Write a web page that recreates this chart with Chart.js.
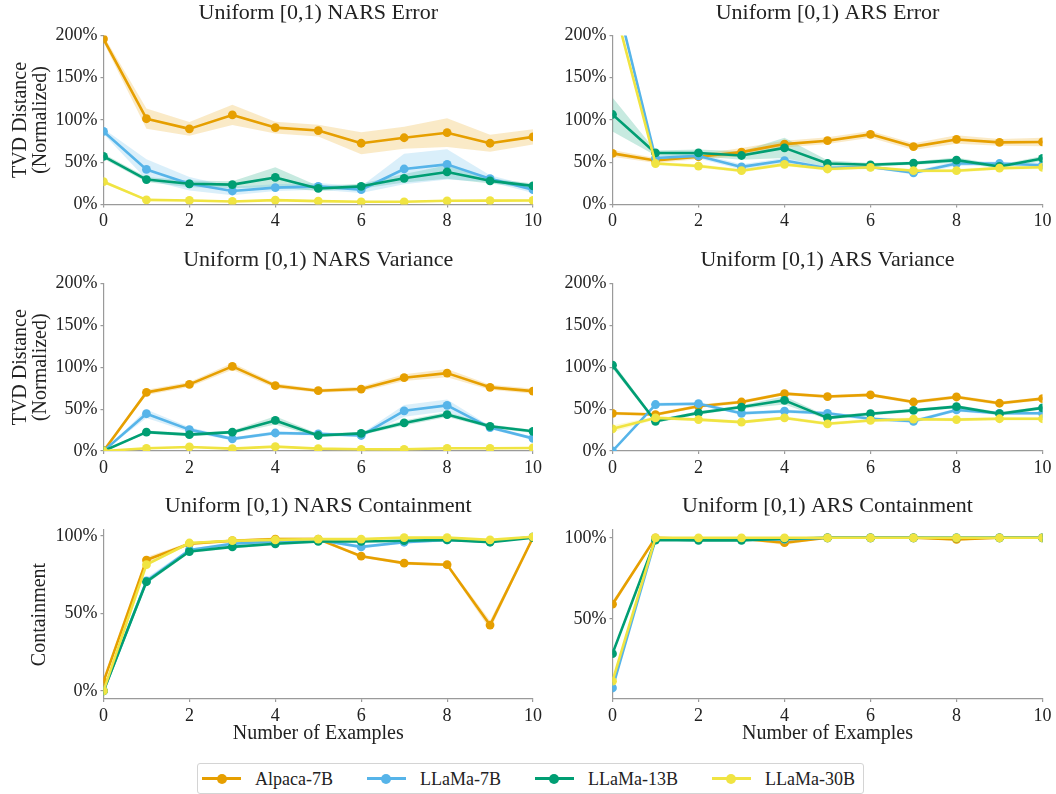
<!DOCTYPE html>
<html>
<head>
<meta charset="utf-8">
<script src="https://cdn.jsdelivr.net/npm/chart.js@4.4.1/dist/chart.umd.min.js"></script>
<style>
  html, body { margin: 0; padding: 0; background: #fff; }
  body { width: 1056px; height: 794px; position: relative; overflow: hidden; font-family: "Liberation Serif", "DejaVu Serif", serif; }
  .panel { position: absolute; }
  #legend { position: absolute; left: 197px; top: 763px; width: 667px; height: 31px; box-sizing: border-box;
            border: 1px solid #d4d4d4; border-radius: 3px; display: flex; align-items: center; padding-left: 4px; gap: 34px; }
  .item { display: flex; align-items: center; }
  .handle { position: relative; width: 39px; height: 3px; margin-right: 14px; }
  .dot { position: absolute; left: 14.5px; top: -3.5px; width: 10px; height: 10px; border-radius: 50%; }
  .lab { font-size: 18px; color: #222; line-height: 1; font-family: "Liberation Serif", serif; }
</style>
</head>
<body>
<canvas id="c1" class="panel"></canvas>
<canvas id="c2" class="panel"></canvas>
<canvas id="c3" class="panel"></canvas>
<canvas id="c4" class="panel"></canvas>
<canvas id="c5" class="panel"></canvas>
<canvas id="c6" class="panel"></canvas>
<div id="legend"></div>
<script>
// ---------------- DATA ----------------
const examples = [0, 1, 2, 3, 4, 5, 6, 7, 8, 9, 10];
const seriesNames = ['Alpaca-7B', 'LLaMa-7B', 'LLaMa-13B', 'LLaMa-30B'];
const seriesColors = ['#E69F00', '#56B4E9', '#009E73', '#F0E442'];

const panelTitles = ['Uniform [0,1) NARS Error', 'Uniform [0,1) ARS Error',
                     'Uniform [0,1) NARS Variance', 'Uniform [0,1) ARS Variance',
                     'Uniform [0,1) NARS Containment', 'Uniform [0,1) ARS Containment'];
const tvdTicks = [0, 50, 100, 150, 200];
const contTicksLeft = [0, 50, 100];
const contTicksRight = [50, 100];
const xTicks = [0, 2, 4, 6, 8, 10];

// NARS Error (%)
const alpacaNarsErr  = [196, 101.5, 89.5, 106, 91, 87.5, 72.5, 79, 85, 72.5, 80];
const llama7NarsErr  = [86.5, 41.5, 24.5, 16, 20, 21.5, 17.5, 42, 47.5, 30.5, 17.5];
const llama13NarsErr = [57, 29.5, 24.5, 23.5, 32, 19, 21.5, 31, 38.5, 28, 22];
const llama30NarsErr = [27, 5.5, 4.8, 3.6, 5.2, 4, 3.2, 3.2, 4.4, 4.6, 4.8];
const alpacaNarsErrCI  = [4, 12, 8, 12, 7, 7, 13, 13, 17, 10, 9];
const llama7NarsErrCI  = [3, 12, 8, 5, 4, 4, 4, 18, 18, 4, 4];
const llama13NarsErrCI = [3, 3, 4, 4, 12, 3, 3, 5, 8, 3, 3];
const llama30NarsErrCI = [2, 1, 1, 1, 1, 1, 1, 1, 1, 1, 1];

// ARS Error (%)
const alpacaArsErr  = [60.5, 52, 56.5, 62, 71.5, 75.5, 83, 68.5, 77, 73.5, 74];
const llama7ArsErr  = [262, 55, 57.5, 44.5, 52, 43, 44.5, 37.5, 48.5, 48.5, 46.5];
const llama13ArsErr = [106.5, 61, 61, 58, 67, 48.5, 47, 49, 52.5, 45, 54.5];
const llama30ArsErr = [243, 48.5, 45.5, 40, 47.5, 42, 44, 40, 40, 43, 44];
const alpacaArsErrCI  = [4, 3, 3, 5, 4, 4, 4, 4, 5, 4, 5];
const llama7ArsErrCI  = [5, 3, 3, 3, 3, 2, 2, 2, 3, 2, 3];
const llama13ArsErrCI = [20, 3, 4, 5, 12, 4, 2, 2, 3, 2, 3];
const llama30ArsErrCI = [5, 2, 2, 2, 2, 2, 2, 2, 2, 2, 2];

// NARS Variance (%)
const alpacaNarsVar  = [0, 70, 79.5, 101, 78, 72, 74, 87.5, 93, 76, 71.5];
const llama7NarsVar  = [0, 44.5, 25.5, 14.5, 21.5, 20.5, 18.5, 48, 54.5, 28, 15];
const llama13NarsVar = [0, 22.5, 19.5, 22.5, 36.5, 18.5, 21, 33.5, 43.5, 29.5, 23.5];
const llama30NarsVar = [0, 3.2, 4.8, 2.8, 5.2, 2.8, 2, 2, 3.2, 3.2, 3.6];
const alpacaNarsVarCI  = [0, 3, 3, 4, 3, 2, 3, 4, 5, 3, 3];
const llama7NarsVarCI  = [0, 5, 3, 2, 2, 2, 2, 7, 7, 2, 2];
const llama13NarsVarCI = [0, 2, 2, 2, 5, 2, 2, 3, 3, 2, 2];
const llama30NarsVarCI = [0, 1, 1, 1, 1, 1, 1, 1, 1, 1, 1];

// ARS Variance (%)
const alpacaArsVar  = [45, 43.5, 53.5, 58.5, 68.5, 65, 67, 58.5, 64.5, 57, 62.5];
const llama7ArsVar  = [0, 55.5, 56.5, 45, 47.5, 45, 38.5, 35.5, 49, 45, 45];
const llama13ArsVar = [102.5, 35.5, 45.5, 52.5, 60.5, 39.5, 44.5, 48.5, 53, 44.5, 51.5];
const llama30ArsVar = [26.5, 39.5, 37.5, 34.5, 39.5, 32.5, 36.5, 38, 37.5, 38.5, 38.5];
const alpacaArsVarCI  = [2, 2, 2, 2, 2, 2, 2, 2, 2, 2, 2];
const llama7ArsVarCI  = [0, 2, 2, 2, 2, 2, 2, 2, 2, 2, 2];
const llama13ArsVarCI = [4, 2, 2, 2, 5, 2, 2, 2, 2, 2, 2];
const llama30ArsVarCI = [4, 2, 2, 2, 2, 2, 2, 2, 2, 2, 2];

// NARS Containment (%)
const alpacaNarsCont  = [6, 84.5, 95, 97, 98, 98, 87, 82.5, 81.5, 42.5, 99];
const llama7NarsCont  = [0, 71, 91, 95, 96.5, 97.5, 93, 96, 97.5, 96.5, 99.5];
const llama13NarsCont = [0, 70.5, 90, 93, 95, 96.5, 96.5, 97, 97.5, 96, 99];
const llama30NarsCont = [0, 81.5, 95.5, 97, 97.5, 98, 98, 99, 99, 97.5, 99.5];
const alpacaNarsContCI  = [2, 2, 1, 1, 1, 1, 1, 1, 1, 3, 1];
const llama7NarsContCI  = [0, 2, 1, 1, 1, 1, 1, 1, 1, 1, 0.5];
const llama13NarsContCI = [0, 1.5, 1, 1, 1, 1, 0.5, 0.5, 0.5, 0.5, 0.5];
const llama30NarsContCI = [0, 1, 1, 0.5, 0.5, 0.5, 0.5, 0.5, 0.5, 0.5, 0.5];

// ARS Containment (%)
const alpacaArsCont  = [59, 100, 99.2, 99.4, 97, 100, 100, 100, 99, 100, 100];
const llama7ArsCont  = [7.3, 99, 99, 99, 99, 100, 100, 100, 100, 100, 100];
const llama13ArsCont = [28.5, 98.6, 98.4, 98.4, 99.4, 100, 100, 100, 100, 100, 100];
const llama30ArsCont = [11.5, 100, 100, 100, 100, 100, 100, 100, 100, 100, 100];
const alpacaArsContCI  = [2, 0.3, 0.5, 0.5, 1.5, 0.2, 0.2, 0.2, 1, 0.2, 0.2];
const llama7ArsContCI  = [1.5, 0.5, 0.5, 0.5, 0.5, 0.2, 0.2, 0.2, 0.2, 0.2, 0.2];
const llama13ArsContCI = [1.5, 0.5, 0.5, 0.5, 0.5, 0.2, 0.2, 0.2, 0.2, 0.2, 0.2];
const llama30ArsContCI = [1.5, 0.2, 0.2, 0.2, 0.2, 0.2, 0.2, 0.2, 0.2, 0.2, 0.2];

// ---------------- LAYOUT / STYLE ----------------
const FONT = '"Liberation Serif", "DejaVu Serif", serif';
const TEXT = '#222';
const AXIS = '#9a9a9a';

const panels = [
  { id: 'c1', left: 0,   top: 0,   w: 545, h: 245, title: panelTitles[0],
    means: [alpacaNarsErr, llama7NarsErr, llama13NarsErr, llama30NarsErr],
    cis: [alpacaNarsErrCI, llama7NarsErrCI, llama13NarsErrCI, llama30NarsErrCI],
    yMin: 0, yMax: 200, yTicks: tvdTicks, yW: 103.5, yTitle: ['TVD Distance', '(Normalized)'], yTitlePad: 11,
    xH: 40.5, xTitle: null, tPadTop: 0.3, tPadBottom: 8.8, padRight: 11.5 },
  { id: 'c2', left: 545, top: 0,   w: 511, h: 245, title: panelTitles[1],
    means: [alpacaArsErr, llama7ArsErr, llama13ArsErr, llama30ArsErr],
    cis: [alpacaArsErrCI, llama7ArsErrCI, llama13ArsErrCI, llama30ArsErrCI],
    yMin: 0, yMax: 200, yTicks: tvdTicks, yW: 67.5, yTitle: null,
    xH: 40.5, xTitle: null, tPadTop: 0.3, tPadBottom: 8.8, padRight: 13.5 },
  { id: 'c3', left: 0,   top: 247, w: 545, h: 244, title: panelTitles[2],
    means: [alpacaNarsVar, llama7NarsVar, llama13NarsVar, llama30NarsVar],
    cis: [alpacaNarsVarCI, llama7NarsVarCI, llama13NarsVarCI, llama30NarsVarCI],
    yMin: 0, yMax: 200, yTicks: tvdTicks, yW: 103.5, yTitle: ['TVD Distance', '(Normalized)'], yTitlePad: 11,
    xH: 40, xTitle: null, tPadTop: 0.3, tPadBottom: 9.8, padRight: 11.5 },
  { id: 'c4', left: 545, top: 247, w: 511, h: 244, title: panelTitles[3],
    means: [alpacaArsVar, llama7ArsVar, llama13ArsVar, llama30ArsVar],
    cis: [alpacaArsVarCI, llama7ArsVarCI, llama13ArsVarCI, llama30ArsVarCI],
    yMin: 0, yMax: 200, yTicks: tvdTicks, yW: 67.5, yTitle: null,
    xH: 40, xTitle: null, tPadTop: 0.3, tPadBottom: 9.8, padRight: 13.5 },
  { id: 'c5', left: 0,   top: 492, w: 545, h: 258, title: panelTitles[4],
    means: [alpacaNarsCont, llama7NarsCont, llama13NarsCont, llama30NarsCont],
    cis: [alpacaNarsContCI, llama7NarsContCI, llama13NarsContCI, llama30NarsContCI],
    yMin: -5.2, yMax: 103.9, yTicks: contTicksLeft, yW: 103.5, yTitle: 'Containment', yTitlePad: 30,
    xH: 51, xTitle: 'Number of Examples', tPadTop: 1.3, tPadBottom: 10.3, padRight: 11.5 },
  { id: 'c6', left: 545, top: 492, w: 511, h: 258, title: panelTitles[5],
    means: [alpacaArsCont, llama7ArsCont, llama13ArsCont, llama30ArsCont],
    cis: [alpacaArsContCI, llama7ArsContCI, llama13ArsContCI, llama30ArsContCI],
    yMin: 0.5, yMax: 104.8, yTicks: contTicksRight, yW: 67.5, yTitle: null,
    xH: 51, xTitle: 'Number of Examples', tPadTop: 1.3, tPadBottom: 10.3, padRight: 13.5 }
];

function rgba(hex, a) {
  const n = parseInt(hex.slice(1), 16);
  return `rgba(${(n >> 16) & 255},${(n >> 8) & 255},${n & 255},${a})`;
}
function pts(vals) { return examples.map((x, i) => ({ x: x, y: vals[i] })); }

function buildDatasets(p) {
  const ds = [];
  // confidence bands (lower, upper pairs)
  p.means.forEach((m, k) => {
    const ci = p.cis[k];
    ds.push({ label: seriesNames[k] + ' lo', data: pts(m.map((v, i) => v - ci[i])),
              borderWidth: 0, pointRadius: 0, fill: false, order: 10 });
    ds.push({ label: seriesNames[k] + ' hi', data: pts(m.map((v, i) => v + ci[i])),
              borderWidth: 0, pointRadius: 0, fill: '-1', backgroundColor: rgba(seriesColors[k], 0.22), order: 10 });
  });
  // lines with markers (later series on top)
  p.means.forEach((m, k) => {
    ds.push({ label: seriesNames[k], data: pts(m), borderColor: seriesColors[k], backgroundColor: seriesColors[k],
              borderWidth: 2.6, pointRadius: 4.4, pointBorderWidth: 0, pointBackgroundColor: seriesColors[k],
              borderJoinStyle: 'round', borderCapStyle: 'round', fill: false, order: 4 - k });
  });
  return ds;
}

panels.forEach(p => {
  const cv = document.getElementById(p.id);
  cv.width = p.w; cv.height = p.h;
  cv.style.left = p.left + 'px'; cv.style.top = p.top + 'px';
  cv.style.width = p.w + 'px'; cv.style.height = p.h + 'px';
  new Chart(cv, {
    type: 'line',
    data: { datasets: buildDatasets(p) },
    options: {
      responsive: false, animation: false, devicePixelRatio: 1, events: [],
      layout: { padding: { left: 0, right: p.padRight, top: 0, bottom: 0 } },
      plugins: {
        legend: { display: false }, tooltip: { enabled: false },
        title: { display: true, text: p.title, color: TEXT, fullSize: false, align: 'center',
                 font: { family: FONT, size: 22, weight: 'normal', lineHeight: 1.2 },
                 padding: { top: p.tPadTop, bottom: p.tPadBottom } }
      },
      scales: {
        x: {
          type: 'linear', min: 0, max: 10,
          border: { display: true, color: AXIS, width: 1.2 },
          grid: { drawOnChartArea: false, drawTicks: true, tickLength: 3, color: AXIS, lineWidth: 1.2 },
          ticks: { color: TEXT, padding: 3, font: { family: FONT, size: 18 }, maxRotation: 0 },
          afterBuildTicks: s => { s.ticks = xTicks.map(v => ({ value: v })); },
          afterFit: s => { s.height = p.xH; },
          title: p.xTitle ? { display: true, text: p.xTitle, color: TEXT,
                              font: { family: FONT, size: 20, lineHeight: 1.2 }, padding: { top: 0, bottom: 4.5 } }
                          : { display: false }
        },
        y: {
          type: 'linear', min: p.yMin, max: p.yMax,
          border: { display: true, color: AXIS, width: 1.2 },
          grid: { drawOnChartArea: false, drawTicks: true, tickLength: 3, color: AXIS, lineWidth: 1.2 },
          ticks: { color: TEXT, padding: 3, font: { family: FONT, size: 18 }, callback: v => v + '%' },
          afterBuildTicks: s => { s.ticks = p.yTicks.map(v => ({ value: v })); },
          afterFit: s => { s.width = p.yW; },
          title: p.yTitle ? { display: true, text: p.yTitle, color: TEXT,
                              font: { family: FONT, size: 20, lineHeight: 1.0 }, padding: { top: p.yTitlePad, bottom: 0 } }
                          : { display: false }
        }
      }
    }
  });
});

// legend (HTML, built from series arrays)
const lg = document.getElementById('legend');
seriesNames.forEach((name, k) => {
  const it = document.createElement('div'); it.className = 'item';
  const h = document.createElement('span'); h.className = 'handle'; h.style.background = seriesColors[k];
  const d = document.createElement('span'); d.className = 'dot'; d.style.background = seriesColors[k];
  h.appendChild(d);
  const l = document.createElement('span'); l.className = 'lab'; l.textContent = name;
  it.appendChild(h); it.appendChild(l); lg.appendChild(it);
});
</script>
</body>
</html>
